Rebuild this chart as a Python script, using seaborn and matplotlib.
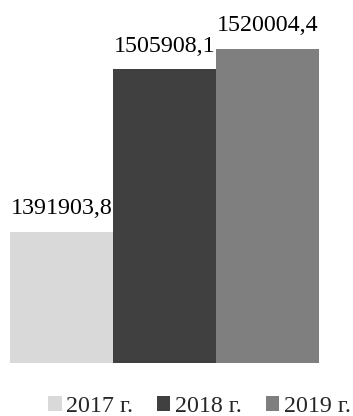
import matplotlib
matplotlib.use("Agg")
import matplotlib.pyplot as plt
import seaborn as sns
import pandas as pd

years = ["2017 г.", "2018 г.", "2019 г."]
values = [1391903.8, 1505908.1, 1520004.4]
colors = ["#D9D9D9", "#404040", "#7F7F7F"]

sns.set_theme(style="white")
plt.rcParams["font.family"] = ["Liberation Serif", "DejaVu Serif"]

W, H = 353, 416
fig = plt.figure(figsize=(W / 100, H / 100), dpi=100)
ax = fig.add_axes([10 / W, (H - 362.7) / H, (319 - 10) / W, (362.7 - 6.7) / H])

df = pd.DataFrame({"year": years, "value": values})
sns.barplot(data=df, x="year", y="value", hue="year", palette=colors,
            width=1.0, dodge=False, legend=False, ax=ax, saturation=1,
            linewidth=0, edgecolor="none")

ax.set_ylim(1300000, 1550000)
ax.set_xlim(-0.5, 2.5)
ax.set_xlabel("")
ax.set_ylabel("")
ax.set_xticks([])
ax.set_yticks([])
for s in ax.spines.values():
    s.set_visible(False)
ax.patch.set_alpha(0)

for cont, v in zip(ax.containers, values):
    ax.bar_label(cont, labels=[f"{v:.1f}".replace(".", ",")], padding=9.3,
                 fontsize=17.3, color="black")

fig.legend(handles=[c.patches[0] for c in ax.containers], labels=years,
           loc="center", bbox_to_anchor=(199.5 / W, 1 - 406.5 / H),
           ncol=3, frameon=False, fontsize=17.3, handlelength=0.55,
           handleheight=0.55, handletextpad=0.2, columnspacing=0.98,
           borderpad=0, borderaxespad=0)

fig.savefig("out.png", dpi=100)
